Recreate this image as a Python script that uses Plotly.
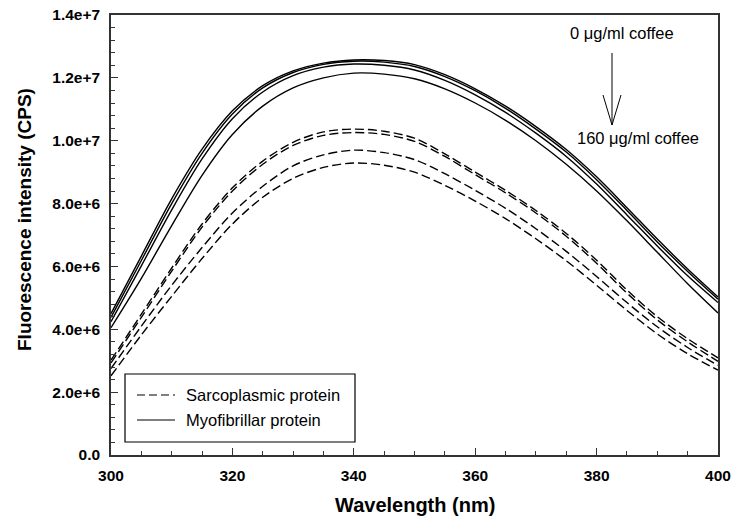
import plotly.graph_objects as go

# ---- data ----
wavelength = [300, 305, 310, 315, 320, 325, 330, 335, 340, 345, 350,
              355, 360, 365, 370, 375, 380, 385, 390, 395, 400]

# Myofibrillar protein (solid), units of 1e6 CPS, 0 -> 160 ug/ml coffee
myo_1 = [4.50, 6.33, 8.15, 9.73, 10.95, 11.75, 12.22, 12.47, 12.57, 12.55, 12.42,
         12.10, 11.65, 11.10, 10.45, 9.72, 8.85, 7.87, 6.87, 5.92, 5.03]
myo_2 = [4.38, 6.19, 8.00, 9.60, 10.85, 11.68, 12.17, 12.43, 12.53, 12.50, 12.36,
         12.04, 11.59, 11.03, 10.37, 9.64, 8.76, 7.78, 6.78, 5.84, 4.96]
myo_3 = [4.24, 6.02, 7.80, 9.42, 10.70, 11.55, 12.07, 12.34, 12.44, 12.40, 12.25,
         11.92, 11.46, 10.90, 10.24, 9.50, 8.62, 7.64, 6.65, 5.70, 4.85]
myo_4 = [4.05, 5.62, 7.30, 8.90, 10.20, 11.10, 11.68, 12.00, 12.15, 12.12, 11.97,
         11.65, 11.20, 10.65, 10.00, 9.25, 8.40, 7.45, 6.45, 5.45, 4.52]

# Sarcoplasmic protein (dashed)
sar_1 = [3.02, 4.48, 5.95, 7.35, 8.50, 9.35, 9.95, 10.28, 10.37, 10.30, 10.08,
         9.58, 9.00, 8.42, 7.78, 7.05, 6.20, 5.25, 4.40, 3.70, 3.09]
sar_2 = [2.93, 4.38, 5.85, 7.25, 8.40, 9.25, 9.85, 10.17, 10.26, 10.20, 9.98,
         9.50, 8.92, 8.34, 7.70, 6.96, 6.10, 5.15, 4.30, 3.60, 2.98]
sar_3 = [2.75, 4.10, 5.40, 6.60, 7.70, 8.55, 9.20, 9.55, 9.70, 9.62, 9.40,
         8.95, 8.42, 7.85, 7.20, 6.48, 5.68, 4.85, 4.08, 3.42, 2.85]
sar_4 = [2.52, 3.82, 5.05, 6.25, 7.35, 8.20, 8.80, 9.15, 9.29, 9.22, 9.00,
         8.58, 8.08, 7.52, 6.88, 6.18, 5.40, 4.60, 3.85, 3.22, 2.70]

scale = 1e6
y_tickvals = [0, 2e6, 4e6, 6e6, 8e6, 1e7, 1.2e7, 1.4e7]
y_ticktext = ["0.0", "2.0e+6", "4.0e+6", "6.0e+6", "8.0e+6", "1.0e+7", "1.2e+7", "1.4e+7"]
x_tickvals = [300, 320, 340, 360, 380, 400]

legend_labels = ["Sarcoplasmic protein", "Myofibrillar protein"]
note_top = "0 \u03bcg/ml coffee"
note_bottom = "160 \u03bcg/ml coffee"
x_title = "Wavelength (nm)"
y_title = "Fluorescence intensity (CPS)"

FONT = "Liberation Sans, Arial, sans-serif"

fig = go.Figure()
for ys in [sar_1, sar_2, sar_3, sar_4]:
    fig.add_trace(go.Scatter(x=wavelength, y=[v * scale for v in ys], mode="lines",
                             line=dict(color="black", width=1.4, dash="9px,4px",
                                       shape="spline", smoothing=0.9),
                             showlegend=False, hoverinfo="skip"))
for ys in [myo_1, myo_2, myo_3, myo_4]:
    fig.add_trace(go.Scatter(x=wavelength, y=[v * scale for v in ys], mode="lines",
                             line=dict(color="black", width=1.4,
                                       shape="spline", smoothing=0.9),
                             showlegend=False, hoverinfo="skip"))

# plot area in pixels: x 111..718, y 15..455
L, R, T, B = 111, 718, 15, 455
def px(x):
    return (x - L) / (R - L)
def py(y):
    return (B - y) / (B - T)

shapes = []
# legend box
shapes.append(dict(type="rect", xref="paper", yref="paper",
                   x0=px(125), x1=px(355), y0=py(442), y1=py(374),
                   line=dict(color="black", width=1.2), fillcolor="white", layer="above"))
shapes.append(dict(type="line", xref="paper", yref="paper",
                   x0=px(137), x1=px(175), y0=py(395), y1=py(395),
                   line=dict(color="black", width=1.2, dash="8px,4px"), layer="above"))
shapes.append(dict(type="line", xref="paper", yref="paper",
                   x0=px(137), x1=px(175), y0=py(420), y1=py(420),
                   line=dict(color="black", width=1.2), layer="above"))
# arrow (open V head)
shapes.append(dict(type="path", xref="paper", yref="paper",
                   path=f"M {px(612)},{py(53)} L {px(612)},{py(125)} "
                        f"M {px(603)},{py(95)} L {px(612)},{py(125)} L {px(621)},{py(95)}",
                   line=dict(color="black", width=1)))

TXT = 16.5
annotations = [
    dict(text=legend_labels[0], xref="paper", yref="paper", x=px(184), y=py(395),
         xanchor="left", yanchor="middle", showarrow=False,
         font=dict(family=FONT, size=TXT, color="black")),
    dict(text=legend_labels[1], xref="paper", yref="paper", x=px(184), y=py(420),
         xanchor="left", yanchor="middle", showarrow=False,
         font=dict(family=FONT, size=TXT, color="black")),
    dict(text=note_top, xref="paper", yref="paper", x=px(622), y=py(33),
         xanchor="center", yanchor="middle", showarrow=False,
         font=dict(family=FONT, size=TXT, color="black")),
    dict(text=note_bottom, xref="paper", yref="paper", x=px(638), y=py(138),
         xanchor="center", yanchor="middle", showarrow=False,
         font=dict(family=FONT, size=TXT, color="black")),
    dict(text=f"<b>{y_title}</b>", xref="paper", yref="paper", x=px(24), y=py(220),
         xanchor="center", yanchor="middle", textangle=-90, showarrow=False,
         font=dict(family=FONT, size=19, color="black")),
    dict(text=f"<b>{x_title}</b>", xref="paper", yref="paper", x=px(415), y=py(505),
         xanchor="center", yanchor="middle", showarrow=False,
         font=dict(family=FONT, size=20, color="black")),
]

axis_common = dict(showgrid=False, zeroline=False, showline=True, linecolor="#333",
                   linewidth=1.5, mirror=True, ticks="inside", tickcolor="#333",
                   ticklen=7, tickwidth=1, automargin=False,
                   tickfont=dict(family=FONT, size=15.5, color="black", weight="bold"))

fig.update_layout(
    width=733, height=523,
    margin=dict(l=L, r=733 - R, t=T, b=523 - B),
    paper_bgcolor="white", plot_bgcolor="white",
    xaxis=dict(range=[300, 400], tickvals=x_tickvals,
               minor=dict(ticks="inside", dtick=5, ticklen=4, tickcolor="#333"),
               ticklabelstandoff=6,
               **axis_common),
    yaxis=dict(range=[0, 1.4e7], tickvals=y_tickvals, ticktext=y_ticktext,
               minor=dict(ticks="inside", dtick=4e5, ticklen=4, tickcolor="#333"),
               ticklabelstandoff=6,
               **axis_common),
    shapes=shapes, annotations=annotations,
    showlegend=False,
)

fig.write_html("out.html")
